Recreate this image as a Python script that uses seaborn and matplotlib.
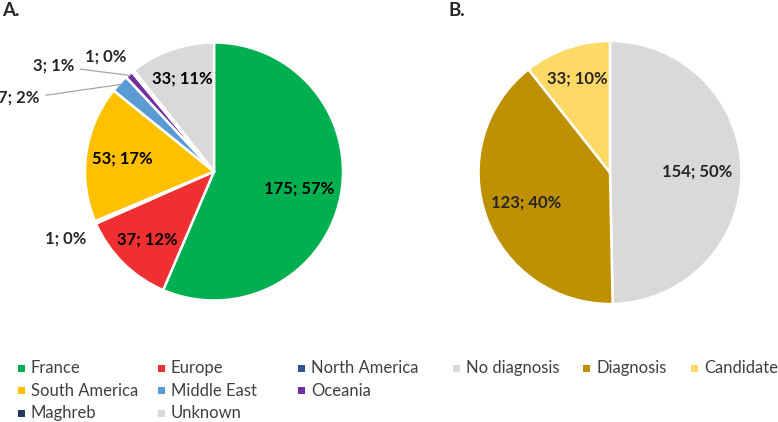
import numpy as np
import matplotlib
matplotlib.use("Agg")
import matplotlib.pyplot as plt
from matplotlib.patches import Rectangle
import seaborn as sns

sns.set_theme(style="white")
plt.rcParams['font.family'] = ['Lato', 'DejaVu Sans']

# ---- data ----
origin_labels = ["France", "Europe", "North America", "South America",
                 "Middle East", "Oceania", "Maghreb", "Unknown"]
origin_values = [175, 37, 1, 53, 7, 3, 1, 33]
origin_colors = ["#00B050", "#F03030", "#2F5597", "#FFC000",
                 "#5B9BD5", "#7030A0", "#203864", "#D9D9D9"]

diag_labels = ["No diagnosis", "Diagnosis", "Candidate"]
diag_values = [154, 123, 33]
diag_colors = ["#D9D9D9", "#BF9000", "#FFD966"]

W, H = 778, 422
fig = plt.figure(figsize=(W / 100, H / 100), dpi=100)
LBL = 12

def make_ax(cx, cy, r):
    return fig.add_axes([(cx - r) / W, (H - cy - r) / H, 2 * r / W, 2 * r / H])

def pct_largest_remainder(vals):
    v = np.asarray(vals, float)
    raw = 100 * v / v.sum()
    fl = np.floor(raw).astype(int)
    rem = raw - fl
    k = 100 - fl.sum()
    for idx in np.argsort(-rem)[:k]:
        fl[idx] += 1
    return fl

def mid_xy(w, r):
    a = np.deg2rad((w.theta1 + w.theta2) / 2)
    return (r * np.cos(a), r * np.sin(a))

# ---- Pie A ----
axA = make_ax(214, 171.5, 129)
wA, _ = axA.pie(origin_values, colors=origin_colors, startangle=90, counterclock=False,
                wedgeprops=dict(edgecolor="white", linewidth=1.8), radius=1.0)
axA.set_xlim(-1, 1); axA.set_ylim(-1, 1); axA.set_aspect("equal"); axA.axis("off")
pA = pct_largest_remainder(origin_values)
labA = [f"{v}; {p}%" for v, p in zip(origin_values, pA)]
inner_r = {0: 0.67, 1: 0.74, 3: 0.72, 7: 0.76}
for i, r in inner_r.items():
    x, y = mid_xy(wA[i], r)
    axA.text(x, y, labA[i], ha="center", va="center", fontsize=LBL,
             fontweight="bold", color="black")
# small slices, labelled outside
axA.text(-1.147, -0.52, labA[2], ha="center", va="center",
         fontsize=LBL, fontweight="bold", clip_on=False)
axA.annotate(labA[4], xy=mid_xy(wA[4], 0.99), xytext=(-1.35, 0.57),
             ha="right", va="center", fontsize=LBL, fontweight="bold",
             arrowprops=dict(arrowstyle="-", color="#A6A6A6", lw=0.9,
                             connectionstyle="arc,angleA=0,armA=8,angleB=0,armB=0,rad=0",
                             shrinkA=2, shrinkB=0),
             annotation_clip=False)
axA.annotate(labA[5], xy=mid_xy(wA[5], 0.99), xytext=(-1.085, 0.82),
             ha="right", va="center", fontsize=LBL, fontweight="bold",
             arrowprops=dict(arrowstyle="-", color="#A6A6A6", lw=0.9,
                             shrinkA=2, shrinkB=0),
             annotation_clip=False)
axA.text(-0.84, 0.895, labA[6], ha="center", va="center",
         fontsize=LBL, fontweight="bold", clip_on=False)

# ---- Pie B ----
axB = make_ax(610, 172.5, 131.5)
wB, _ = axB.pie(diag_values, colors=diag_colors, startangle=90, counterclock=False,
                wedgeprops=dict(edgecolor="white", linewidth=1.8), radius=1.0)
axB.set_xlim(-1, 1); axB.set_ylim(-1, 1); axB.set_aspect("equal"); axB.axis("off")
pB = pct_largest_remainder(diag_values)
rB = [0.66, 0.68, 0.757]
for i, w in enumerate(wB):
    x, y = mid_xy(w, rB[i])
    axB.text(x, y, f"{diag_values[i]}; {pB[i]}%", ha="center", va="center",
             fontsize=LBL, fontweight="bold")

# ---- panel letters ----
fig.text(2 / W, 1 - 11 / H, "A.", fontsize=13.5, fontweight="bold", va="center", ha="left")
fig.text(448 / W, 1 - 10 / H, "B.", fontsize=13.5, fontweight="bold", va="center", ha="left")

# ---- legends (Excel-like grid) ----
def legend_item(x, y, color, label):
    s = 7
    fig.add_artist(Rectangle(((x) / W, (H - y - s / 2) / H), s / W, s / H,
                             transform=fig.transFigure, facecolor=color,
                             edgecolor="none"))
    fig.text((x + 13) / W, (H - y) / H, label, fontsize=12, color="#404040",
             ha="left", va="center")

colsA = [18, 158, 298]
rows = [368, 390.5, 413]
for k, (lab, col) in enumerate(zip(origin_labels, origin_colors)):
    r, c = divmod(k, 3)
    legend_item(colsA[c], rows[r], col, lab)
colsB = [453, 583, 691]
for lab, col, x in zip(diag_labels, diag_colors, colsB):
    legend_item(x, rows[0], col, lab)

fig.savefig("out.png", dpi=100, facecolor="white")
